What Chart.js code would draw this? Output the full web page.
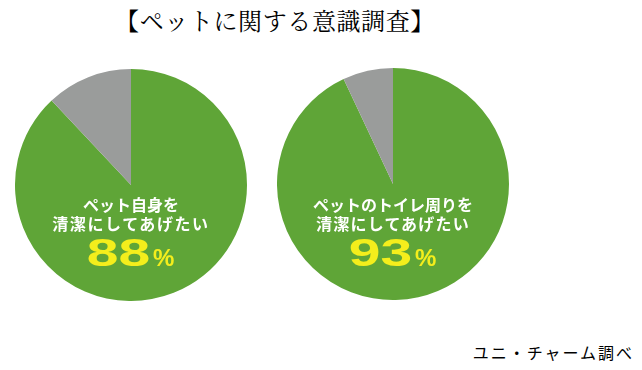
<!DOCTYPE html>
<html>
<head>
<meta charset="utf-8">
<script src="https://cdn.jsdelivr.net/npm/chart.js@4"></script>
<style>
  html, body { margin: 0; padding: 0; background: #fff; }
  body { width: 642px; height: 370px; position: relative; overflow: hidden; font-family: "Noto Sans CJK JP", sans-serif; }
  .title { position: absolute; left: 0; width: 550px; top: 4px; text-align: center; font-family: "Noto Serif CJK JP", "Noto Sans CJK JP", serif; font-size: 24px; letter-spacing: 0.6px; color: #000; line-height: 32px; }
  .source { position: absolute; right: 8px; top: 341px; font-size: 16px; letter-spacing: 2px; color: #000; line-height: 22px; }
  .pie { position: absolute; width: 232px; height: 232px; }
  .lbl { position: absolute; width: 232px; text-align: center; color: #fff; font-weight: bold; font-size: 16px; line-height: 20px; white-space: nowrap; }
  .pct { position: absolute; width: 232px; text-align: center; color: #f4ee1c; font-weight: bold; font-family: "Liberation Sans", Arial, sans-serif; white-space: nowrap; line-height: 40px; }
  .pct .num { display: inline-block; font-size: 38px; transform: scaleX(1.5); transform-origin: right center; }
  .pct .pc { font-size: 24px; margin-left: 3px; }
</style>
</head>
<body>
<div class="title" id="title"></div>
<div class="pie" id="p0" style="left:15px; top:69px;"><canvas id="c0"></canvas></div>
<div class="pie" id="p1" style="left:277px; top:68px;"><canvas id="c1"></canvas></div>
<div class="lbl" id="l0a" style="left:15px; top:194px;"></div>
<div class="lbl" id="l0b" style="left:15px; top:213px; letter-spacing:1.6px;"></div>
<div class="pct" id="v0" style="left:25px; top:233px;"></div>
<div class="lbl" id="l1a" style="left:277px; top:194px;"></div>
<div class="lbl" id="l1b" style="left:277px; top:213px; letter-spacing:1.2px;"></div>
<div class="pct" id="v1" style="left:287px; top:233px;"></div>
<div class="source" id="src"></div>
<script>
const chartTitle = '【ペットに関する意識調査】';
const sourceNote = 'ユニ・チャーム調べ';
const labelLine1 = ['ペット自身を', 'ペットのトイレ周りを'];
const labelLine2 = ['清潔にしてあげたい', '清潔にしてあげたい'];
const yesValues = [88, 93];
const otherValues = [12, 7];
const sliceLabels = ['そう思う', 'その他'];
const sliceColors = ['#5fa537', '#9a9c9b'];

document.getElementById('title').textContent = chartTitle;
document.getElementById('src').textContent = sourceNote;

yesValues.forEach((v, i) => {
  document.getElementById('l' + i + 'a').textContent = labelLine1[i];
  document.getElementById('l' + i + 'b').textContent = labelLine2[i];
  const pct = document.getElementById('v' + i);
  const num = document.createElement('span');
  num.className = 'num';
  num.textContent = String(v);
  const pc = document.createElement('span');
  pc.className = 'pc';
  pc.textContent = '%';
  pct.appendChild(num);
  pct.appendChild(pc);

  new Chart(document.getElementById('c' + i), {
    type: 'pie',
    data: {
      labels: sliceLabels,
      datasets: [{
        data: [v, otherValues[i]],
        backgroundColor: sliceColors,
        borderWidth: 0
      }]
    },
    options: {
      responsive: true,
      maintainAspectRatio: false,
      animation: false,
      layout: { padding: 0 },
      plugins: { legend: { display: false }, tooltip: { enabled: false }, title: { display: false } }
    }
  });
});
</script>
</body>
</html>
